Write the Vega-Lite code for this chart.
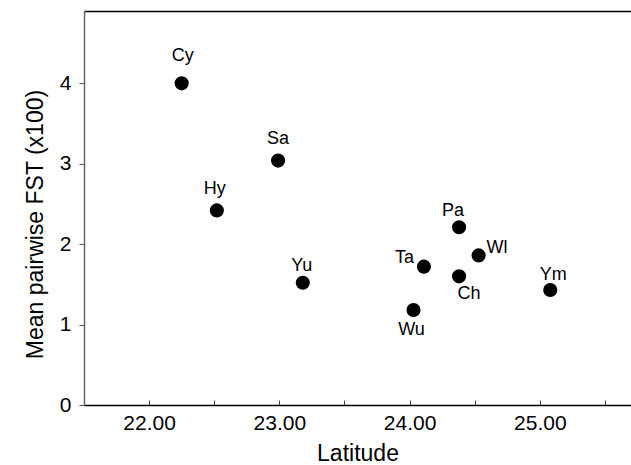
{
  "$schema": "https://vega.github.io/schema/vega-lite/v6.json",
  "width": 547,
  "height": 394,
  "autosize": {"type": "none"},
  "padding": {"left": 84, "top": 11, "right": 0, "bottom": 60},
  "background": "white",
  "config": {
    "view": {"stroke": null},
    "font": "Liberation Sans",
    "axis": {"grid": false, "labelFont": "Liberation Sans", "titleFont": "Liberation Sans", "labelColor": "#000", "titleColor": "#000", "titleFontWeight": "normal"},
    "text": {"font": "Liberation Sans", "fontSize": 18, "color": "#000", "baseline": "alphabetic"}
  },
  "data": {
    "values": [
      {"site": "Cy", "lat": 22.25, "fst": 4.00},
      {"site": "Hy", "lat": 22.52, "fst": 2.42},
      {"site": "Sa", "lat": 22.99, "fst": 3.04},
      {"site": "Yu", "lat": 23.18, "fst": 1.52},
      {"site": "Ta", "lat": 24.11, "fst": 1.72},
      {"site": "Wu", "lat": 24.03, "fst": 1.18},
      {"site": "Pa", "lat": 24.38, "fst": 2.21},
      {"site": "Ch", "lat": 24.38, "fst": 1.60},
      {"site": "Wl", "lat": 24.53, "fst": 1.86},
      {"site": "Ym", "lat": 25.08, "fst": 1.43}
    ]
  },
  "encoding": {
    "x": {"field": "lat", "type": "quantitative", "scale": {"domain": [21.5, 25.7], "nice": false, "zero": false}},
    "y": {"field": "fst", "type": "quantitative", "scale": {"domain": [0, 4.9], "nice": false}}
  },
  "resolve": {"axis": {"x": "independent"}},
  "layer": [
    {
      "mark": {"type": "point", "filled": true, "shape": "circle", "size": 200, "color": "#000", "opacity": 1, "strokeWidth": 0},
      "encoding": {
        "x": {"field": "lat", "type": "quantitative", "axis": {
          "orient": "bottom", "title": "Latitude", "values": [21.5, 22, 22.5, 23, 23.5, 24, 24.5, 25, 25.5],
          "labelExpr": "datum.value % 1 == 0 ? format(datum.value, '.2f') : ''",
          "tickSize": -5, "tickColor": "#444", "tickWidth": 1, "domainColor": "#000", "domainWidth": 1.5,
          "labelFontSize": 21, "labelPadding": 12, "labelFlush": false, "labelOverlap": false,
          "titleFontSize": 23, "titleBaseline": "alphabetic", "titleY": 55
        }},
        "y": {"field": "fst", "type": "quantitative", "axis": {
          "title": "Mean pairwise FST (x100)", "values": [0, 1, 2, 3, 4], "format": "d",
          "tickSize": 5, "tickColor": "#555", "domainColor": "#666", "domainWidth": 1.5,
          "labelFontSize": 21, "labelPadding": 8, "labelFlush": false,
          "titleFontSize": 23, "titleBaseline": "alphabetic", "titleX": -42, "titleY": 213, "titleAngle": -90, "titleAlign": "center"
        }}
      }
    },
    {"transform": [{"filter": "datum.site == 'Cy'"}], "mark": {"type": "text", "dx": 1, "dy": -22},
     "encoding": {"text": {"field": "site"}, "x": {"field": "lat", "type": "quantitative", "axis": {"orient": "top", "title": null, "labels": false, "ticks": false, "domain": true, "domainColor": "#000", "domainWidth": 1.5}}}},
    {"transform": [{"filter": "datum.site == 'Sa'"}], "mark": {"type": "text", "dx": 0, "dy": -17},
     "encoding": {"text": {"field": "site"}, "x": {"field": "lat", "type": "quantitative", "axis": null}}},
    {"transform": [{"filter": "datum.site == 'Hy'"}], "mark": {"type": "text", "dx": -2, "dy": -16},
     "encoding": {"text": {"field": "site"}, "x": {"field": "lat", "type": "quantitative", "axis": null}}},
    {"transform": [{"filter": "datum.site == 'Yu'"}], "mark": {"type": "text", "dx": -1, "dy": -12},
     "encoding": {"text": {"field": "site"}, "x": {"field": "lat", "type": "quantitative", "axis": null}}},
    {"transform": [{"filter": "datum.site == 'Pa'"}], "mark": {"type": "text", "dx": -6, "dy": -11},
     "encoding": {"text": {"field": "site"}, "x": {"field": "lat", "type": "quantitative", "axis": null}}},
    {"transform": [{"filter": "datum.site == 'Ym'"}], "mark": {"type": "text", "dx": 3, "dy": -10},
     "encoding": {"text": {"field": "site"}, "x": {"field": "lat", "type": "quantitative", "axis": null}}},
    {"transform": [{"filter": "datum.site == 'Wl'"}], "mark": {"type": "text", "align": "left", "dx": 8, "dy": -2},
     "encoding": {"text": {"field": "site"}, "x": {"field": "lat", "type": "quantitative", "axis": null}}},
    {"transform": [{"filter": "datum.site == 'Ta'"}], "mark": {"type": "text", "align": "right", "dx": -10, "dy": -4},
     "encoding": {"text": {"field": "site"}, "x": {"field": "lat", "type": "quantitative", "axis": null}}},
    {"transform": [{"filter": "datum.site == 'Ch'"}], "mark": {"type": "text", "dx": 10, "dy": 23},
     "encoding": {"text": {"field": "site"}, "x": {"field": "lat", "type": "quantitative", "axis": null}}},
    {"transform": [{"filter": "datum.site == 'Wu'"}], "mark": {"type": "text", "dx": -2, "dy": 25},
     "encoding": {"text": {"field": "site"}, "x": {"field": "lat", "type": "quantitative", "axis": null}}}
  ]
}
